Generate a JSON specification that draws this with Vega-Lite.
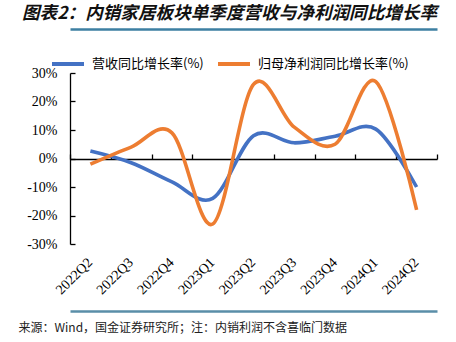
{
  "$schema": "https://vega.github.io/schema/vega-lite/v6.json",
  "width": 367,
  "height": 171,
  "autosize": {"type": "none"},
  "padding": {"left": 70, "top": 73, "right": 19, "bottom": 98},
  "background": "white",
  "config": {"view": {"stroke": null}},
  "title": {
    "text": "图表2：内销家居板块单季度营收与净利润同比增长率",
    "anchor": "start",
    "frame": "group",
    "dx": -48,
    "offset": 6,
    "font": "Noto Sans CJK SC",
    "fontSize": 17.6,
    "fontWeight": "bold",
    "fontStyle": "italic",
    "color": "#111111"
  },
  "data": {
    "values": [
      {"quarter": "2022Q2", "series": "营收同比增长率(%)", "value": 2.6},
      {"quarter": "2022Q3", "series": "营收同比增长率(%)", "value": -1.5},
      {"quarter": "2022Q4", "series": "营收同比增长率(%)", "value": -8.2},
      {"quarter": "2023Q1", "series": "营收同比增长率(%)", "value": -14},
      {"quarter": "2023Q2", "series": "营收同比增长率(%)", "value": 8},
      {"quarter": "2023Q3", "series": "营收同比增长率(%)", "value": 5.5},
      {"quarter": "2023Q4", "series": "营收同比增长率(%)", "value": 7.8},
      {"quarter": "2024Q1", "series": "营收同比增长率(%)", "value": 10.3},
      {"quarter": "2024Q2", "series": "营收同比增长率(%)", "value": -10},
      {"quarter": "2022Q2", "series": "归母净利润同比增长率(%)", "value": -2},
      {"quarter": "2022Q3", "series": "归母净利润同比增长率(%)", "value": 4},
      {"quarter": "2022Q4", "series": "归母净利润同比增长率(%)", "value": 9},
      {"quarter": "2023Q1", "series": "归母净利润同比增长率(%)", "value": -23},
      {"quarter": "2023Q2", "series": "归母净利润同比增长率(%)", "value": 26},
      {"quarter": "2023Q3", "series": "归母净利润同比增长率(%)", "value": 11},
      {"quarter": "2023Q4", "series": "归母净利润同比增长率(%)", "value": 5},
      {"quarter": "2024Q1", "series": "归母净利润同比增长率(%)", "value": 27},
      {"quarter": "2024Q2", "series": "归母净利润同比增长率(%)", "value": -18}
    ]
  },
  "encoding": {
    "y": {
      "field": "value", "type": "quantitative",
      "scale": {"domain": [-30, 30], "nice": false, "zero": false},
      "axis": {
        "values": [-30, -20, -10, 0, 10, 20, 30],
        "labelExpr": "datum.value + '%'",
        "labelOverlap": false,
        "grid": false, "title": null,
        "domainColor": "#000000", "domainWidth": 1.3,
        "ticks": true, "tickSize": -5, "tickColor": "#000000", "tickWidth": 1.3,
        "labelFont": "Liberation Serif", "labelFontSize": 14, "labelColor": "#000000",
        "labelPadding": 18
      }
    }
  },
  "resolve": {"axis": {"x": "independent"}},
  "layer": [
    {
      "mark": {"type": "line", "opacity": 0},
      "encoding": {
        "x": {
          "field": "quarter", "type": "ordinal", "bandPosition": 0.5,
          "scale": {"type": "band", "paddingInner": 0, "paddingOuter": 0},
          "axis": {
            "orient": "bottom", "offset": -85, "labels": false, "title": null,
            "domain": true, "domainColor": "#000000", "domainWidth": 1.3,
            "ticks": true, "tickSize": -5, "tickColor": "#000000", "tickWidth": 1.3,
            "tickBand": "extent", "grid": false
          }
        }
      }
    },
    {
      "mark": {"type": "line", "opacity": 0},
      "encoding": {
        "x": {
          "field": "quarter", "type": "ordinal", "bandPosition": 0.5,
          "axis": {
            "orient": "top", "offset": 44, "labels": false, "ticks": false, "title": null,
            "domain": true, "domainColor": "#3d7fa2", "domainWidth": 2.5, "grid": false
          }
        }
      }
    },
    {
      "mark": {"type": "line", "opacity": 0},
      "encoding": {
        "x": {
          "field": "quarter", "type": "ordinal", "bandPosition": 0.5,
          "axis": {
            "orient": "bottom", "offset": 67, "labels": false, "ticks": false, "title": null,
            "domain": true, "domainColor": "#5a8ea8", "domainWidth": 2.5, "grid": false
          }
        }
      }
    },
    {
      "mark": {"type": "line", "interpolate": "cardinal", "strokeWidth": 3.6},
      "encoding": {
        "x": {
          "field": "quarter", "type": "ordinal", "bandPosition": 0.5,
          "axis": {
            "orient": "bottom", "domain": false, "ticks": false, "grid": false,
            "labelAngle": -45, "labelAlign": "right", "labelBaseline": "middle",
            "labelPadding": 16, "labelFont": "Liberation Serif", "labelFontSize": 14,
            "labelColor": "#000000",
            "title": "来源：Wind，国金证券研究所；注：内销利润不含喜临门数据",
            "titleFont": "Noto Sans CJK SC", "titleFontSize": 12, "titleFontWeight": "normal",
            "titleColor": "#222222", "titleAlign": "left", "titleAnchor": "start",
            "titleBaseline": "middle", "titleX": -52, "titleY": 83
          }
        },
        "color": {
          "field": "series", "type": "nominal",
          "sort": ["营收同比增长率(%)", "归母净利润同比增长率(%)"],
          "scale": {"domain": ["营收同比增长率(%)", "归母净利润同比增长率(%)"], "range": ["#4472C4", "#ED7D31"]},
          "legend": {
            "title": null, "orient": "none", "direction": "horizontal",
            "legendX": -20, "legendY": -27,
            "symbolType": "stroke", "symbolSize": 1024, "symbolStrokeWidth": 4,
            "labelFont": "Noto Sans CJK SC", "labelFontSize": 13, "labelColor": "#000000",
            "labelOffset": 6, "columnPadding": 6, "labelLimit": 300
          }
        }
      }
    }
  ]
}
